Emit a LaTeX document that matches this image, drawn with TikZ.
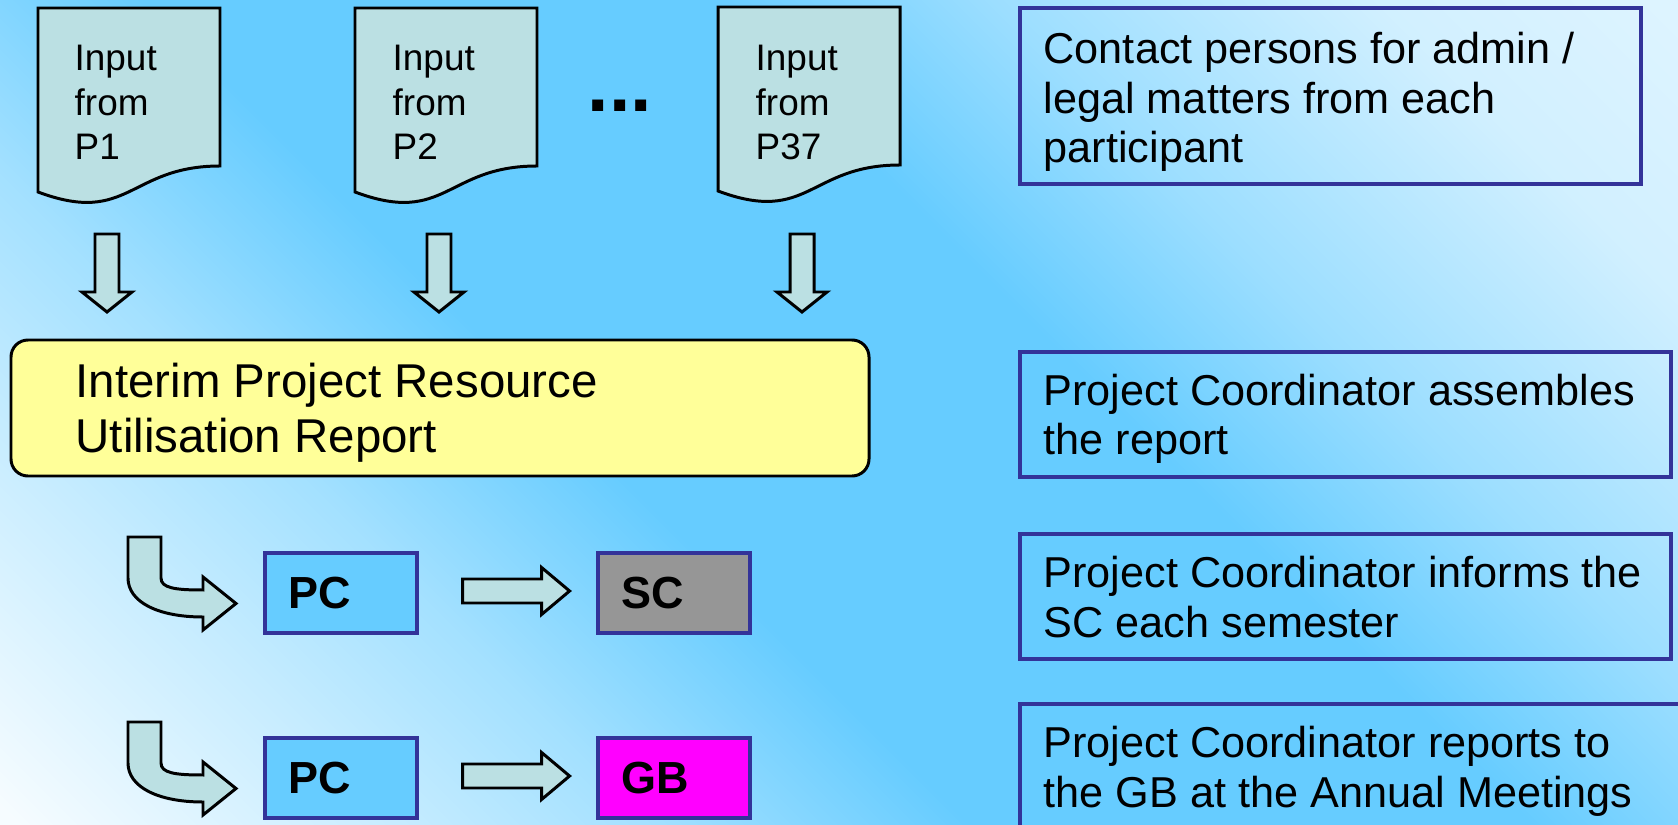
\documentclass[tikz,border=0pt]{standalone}
\usepackage{fontspec}
\setmainfont{Liberation Sans}
\usetikzlibrary{calc,positioning}

\definecolor{bgdark}{HTML}{66CCFF}
\definecolor{paleteal}{HTML}{BBE0E3}
\definecolor{noteyellow}{HTML}{FFFF99}
\definecolor{pcblue}{HTML}{66CCFF}
\definecolor{scgray}{HTML}{969696}
\definecolor{gbmagenta}{HTML}{FF00FF}
\definecolor{frameblue}{HTML}{333399}

% light - blue - light, laid across the page
\pgfdeclareverticalshading{bgshade}{100bp}{
  color(0bp)=(white!94!bgdark); color(15bp)=(white!94!bgdark); color(26bp)=(white!62!bgdark);
  color(33bp)=(white!40!bgdark); color(42bp)=(bgdark); color(58bp)=(bgdark);
  color(66bp)=(white!35!bgdark); color(77bp)=(white!70!bgdark); color(85bp)=(white!78!bgdark);
  color(100bp)=(white!78!bgdark)}

\tikzset{
  shapeline/.style={draw=black, line width=0.85pt, fill=paleteal},
  docpage/.pic={\draw[shapeline] (0,0) -- (182,0) -- (182,158) .. controls (91,158) and (91,218) .. (0,184) -- cycle;},
  darrow/.pic={\draw[shapeline] (-12,0) -- (12,0) -- (12,58) -- (25,58) -- (0,78) -- (-25,58) -- (-12,58) -- cycle;},
  rarrow/.pic={\draw[shapeline] (0,-12) -- (79,-12) -- (79,-23.5) -- (107,0) -- (79,23.5) -- (79,12) -- (0,12) -- cycle;},
  bentarrow/.pic={\draw[shapeline] (0,0) -- (33,0) -- (33,41) .. controls (33,51) and (47,53) .. (75,53) -- (75,40) -- (108,66.5) -- (75,93) -- (75,80) .. controls (30,80) and (0,65) .. (0,41) -- cycle;}
}

\begin{document}
\begin{tikzpicture}[x=0.1mm, y=-0.1mm,
  doctext/.style={anchor=base west, inner sep=0pt, align=left, font={\fontsize{10.5}{12.8}\selectfont}},
  reportbox/.style={draw=black, line width=0.85pt, fill=noteyellow, rounded corners=1.7mm},
  reporttext/.style={anchor=base west, inner sep=0pt, align=left, font={\fontsize{13.5}{15.9}\selectfont}},
  notebox/.style={draw=frameblue, line width=0.9pt},
  notetext/.style={anchor=base west, inner sep=0pt, align=left, font={\fontsize{12.3}{14.2}\selectfont}},
  rolebox/.style={draw=frameblue, line width=0.9pt, minimum width=15.2mm, minimum height=8mm,
    text width=10.6mm, inner xsep=2.3mm, inner ysep=0pt, align=left, font={\bfseries\fontsize{12.8}{14}\selectfont}}]
\useasboundingbox (0,0) rectangle (1678,825);
\shade[shading=bgshade, shading angle=-45] (0,0) rectangle (1678,825);

% inputs from the participants (text anchored on its last line)
\pic at (38,8) {docpage};
\pic at (355,8) {docpage};
\pic at (718,7) {docpage};
\node[doctext] (in1) at (74,160) {Input\\from\\P1};
\node[doctext] (in2) at (392,160) {Input\\from\\P2};
\node[doctext] (in37) at (755,160) {Input\\from\\P37};
\node[anchor=base, inner sep=0pt, font={\bfseries\fontsize{21.9}{24}\selectfont}] (more) at (620,112) {...};

\pic at (107,234) {darrow};
\pic at (439,234) {darrow};
\pic at (802,234) {darrow};

% report
\draw[reportbox] (11,340) rectangle (869,476);
\node[reporttext] (report) at (75,453) {Interim Project Resource\\Utilisation Report};

% who gets it
\node[rolebox, fill=pcblue] (pc1) at (341,593) {PC};
\node[rolebox, fill=scgray] (sc) at (674,593) {SC};
\node[rolebox, fill=pcblue] (pc2) at (341,778) {PC};
\node[rolebox, fill=gbmagenta] (gb) at (674,778) {GB};
\pic at (128,537) {bentarrow};
\pic at (128,722) {bentarrow};
\pic at ($(pc1.east)+(44,-2)$) {rarrow};
\pic at ($(pc2.east)+(44,-2)$) {rarrow};

% notes on the right
\draw[notebox] (1020,8) rectangle (1641,184);
\node[notetext] (contact) at (1043,163) {Contact persons for admin /\\legal matters from each\\participant};
\draw[notebox] (1020,352) rectangle (1671,477);
\node[notetext] (assemble) at (1043,455) {Project Coordinator assembles\\the report};
\draw[notebox] (1020,534) rectangle (1671,659);
\node[notetext] (inform) at (1043,637) {Project Coordinator informs the\\SC each semester};
\draw[notebox] (1020,704) rectangle (1700,850);
\node[notetext] (annual) at (1043,807) {Project Coordinator reports to\\the GB at the Annual Meetings};
\end{tikzpicture}
\end{document}
